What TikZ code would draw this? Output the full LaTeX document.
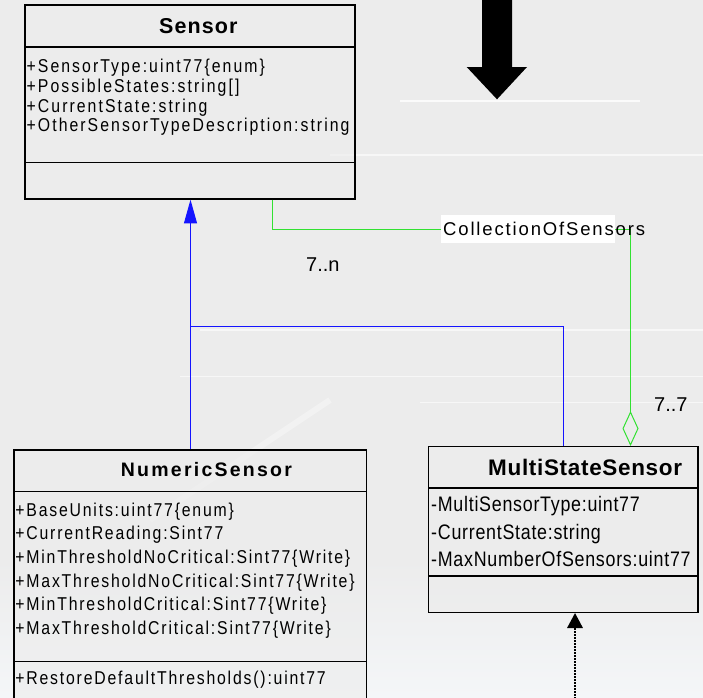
\documentclass[tikz,border=0pt]{standalone}
\usepackage{fontspec}
\setmainfont{Liberation Sans}
% narrow, tracked faces; LetterSpace is a percentage of the font size
\newfontfamily\sensorattr[FakeStretch=0.85, LetterSpace=11]{Liberation Sans}
\newfontfamily\numattr[FakeStretch=0.85, LetterSpace=9.7]{Liberation Sans}
\newfontfamily\multiattr[FakeStretch=0.85, LetterSpace=3.5]{Liberation Sans}
\newfontfamily\rolefont[LetterSpace=10]{Liberation Sans}
\newfontfamily\sensortitle[LetterSpace=5]{Liberation Sans}
\newfontfamily\numtitle[LetterSpace=11.5]{Liberation Sans}
\newfontfamily\multititle[LetterSpace=3]{Liberation Sans}
\usetikzlibrary{arrows.meta}

\definecolor{bggrey}{RGB}{236,236,236}
\definecolor{bglight}{RGB}{244,246,248}
\definecolor{inhblue}{RGB}{20,20,255}
\definecolor{assocgreen}{RGB}{50,225,50}

\tikzset{
  classbox/.style={draw=black, line width=1.4pt, fill=bggrey, fill opacity=0.6, text opacity=1, inner sep=0pt},
  classline/.style={draw=black, line width=1.4pt},
  attrline/.style={anchor=base west, inner sep=0pt},
  sattr/.style={attrline, font=\sensorattr\fontsize{18.6}{20}\selectfont},
  nattr/.style={attrline, font=\numattr\fontsize{18.6}{20}\selectfont},
  mattr/.style={attrline, font=\multiattr\fontsize{21}{24}\selectfont},
  ctitle/.style={anchor=base west, inner sep=0pt},
  mult/.style={anchor=base west, inner sep=0pt, font=\fontsize{20}{22}\selectfont},
  rolelabel/.style={anchor=base west, inner sep=0pt, font=\rolefont\fontsize{18.5}{20}\selectfont},
  inherit/.style={draw=inhblue, line width=1pt, -{Triangle[length=23.7pt, width=13pt, fill=inhblue]}},
  inhline/.style={draw=inhblue, line width=1pt},
  assoc/.style={draw=assocgreen, line width=1pt, -{Diamond[open, length=35pt, width=16pt, line width=1pt]}},
  depend/.style={draw=black, line width=2pt, dash pattern=on 1.6pt off 1.4pt, -{Triangle[length=15pt, width=15.4pt]}},
}

\begin{document}
\begin{tikzpicture}[x=1pt, y=-1pt]
\clip (0,0) rectangle (703,697);

% backdrop
\fill[bggrey] (0,0) rectangle (703,697);
\shade[top color=bggrey, bottom color=bglight] (0,560) rectangle (703,697);
\draw[white, line width=1.2pt, opacity=0.8] (400,101) -- (640,101);
\draw[white, line width=1.2pt, opacity=0.6] (330,155) -- (703,155);
\draw[white, line width=1.2pt, opacity=0.6] (200,330) -- (703,330);
\draw[white, line width=1.2pt, opacity=0.6] (180,376.7) -- (703,376.7);
\draw[white, line width=1.2pt, opacity=0.6] (420,402.7) -- (703,402.7);
\draw[white, line width=6pt, opacity=0.35] (150,520) -- (330,400);

% heavy pointer at the top
\fill[black] (482,0) -- (512,0) -- (512,67) -- (527,67) -- (497,99.3)
  -- (466.7,67) -- (482,67) -- cycle;

% class boxes
\node[classbox, minimum width=330pt, minimum height=194pt] (sensor) at (190,102) {};
\node[classbox, minimum width=352.7pt, minimum height=262pt] (numeric) at (190.35,581) {};
\node[classbox, minimum width=269.3pt, minimum height=165.6pt] (multi) at (563.35,529.5) {};

% compartments
\draw[classline] (sensor.west |- 0,47) -- (sensor.east |- 0,47);
\draw[classline] (sensor.west |- 0,162.5) -- (sensor.east |- 0,162.5);
\draw[classline] (numeric.west |- 0,491.7) -- (numeric.east |- 0,491.7);
\draw[classline] (numeric.west |- 0,661.5) -- (numeric.east |- 0,661.5);
\draw[classline] (multi.west |- 0,488) -- (multi.east |- 0,488);
\draw[classline] (multi.west |- 0,576) -- (multi.east |- 0,576);

% Sensor
\node[ctitle, font=\sensortitle\bfseries\fontsize{21.5}{24}\selectfont] (sensorTitle) at (159,33.5) {Sensor};
\node[sattr] (s1) at (26.5,72.7) {+SensorType:uint77\{enum\}};
\node[sattr] (s2) at (26.5,92.4) {+PossibleStates:string[]};
\node[sattr] (s3) at (26.5,112.1) {+CurrentState:string};
\node[sattr] (s4) at (26.5,131.8) {+OtherSensorTypeDescription:string};

% NumericSensor
\node[ctitle, font=\numtitle\bfseries\fontsize{19.5}{22}\selectfont] (numTitle) at (120.7,476.7) {NumericSensor};
\node[nattr] (n1) at (15.2,516.3) {+BaseUnits:uint77\{enum\}};
\node[nattr] (n2) at (15.2,539.9) {+CurrentReading:Sint77};
\node[nattr] (n3) at (15.2,563.5) {+MinThresholdNoCritical:Sint77\{Write\}};
\node[nattr] (n4) at (15.2,587.1) {+MaxThresholdNoCritical:Sint77\{Write\}};
\node[nattr] (n5) at (15.2,610.7) {+MinThresholdCritical:Sint77\{Write\}};
\node[nattr] (n6) at (15.2,634.3) {+MaxThresholdCritical:Sint77\{Write\}};
\node[nattr] (n7) at (15.2,684.7) {+RestoreDefaultThresholds():uint77};

% MultiStateSensor
\node[ctitle, font=\multititle\bfseries\fontsize{22.5}{25}\selectfont] (multiTitle) at (488,475) {MultiStateSensor};
\node[mattr] (m1) at (431,511.7) {-MultiSensorType:uint77};
\node[mattr] (m2) at (431,539.2) {-CurrentState:string};
\node[mattr] (m3) at (431,566.7) {-MaxNumberOfSensors:uint77};

% generalisation to Sensor
\coordinate (inhJoin) at (190.5,326.5);
\draw[inherit] (numeric.north -| 190.5,0) -- (sensor.south -| 190.5,0);
\draw[inhline] (multi.north -| 563.5,0) |- (inhJoin);

% aggregation CollectionOfSensors
\draw[assoc] (sensor.south -| 272.5,0) |- (630.5,229.5) -- (multi.north -| 630.5,0);
\fill[white] (441,215) rectangle (615,242.7);
\node[rolelabel] (collLabel) at (443,235.5) {CollectionOfSensors};
\node[mult] (multN) at (306,271) {7..n};
\node[mult] (multOne) at (654,411.7) {7..7};

% dependency from below
\coordinate (depFrom) at (575,705);
\draw[depend] (depFrom) -- (multi.south -| 575,0);
\end{tikzpicture}
\end{document}
